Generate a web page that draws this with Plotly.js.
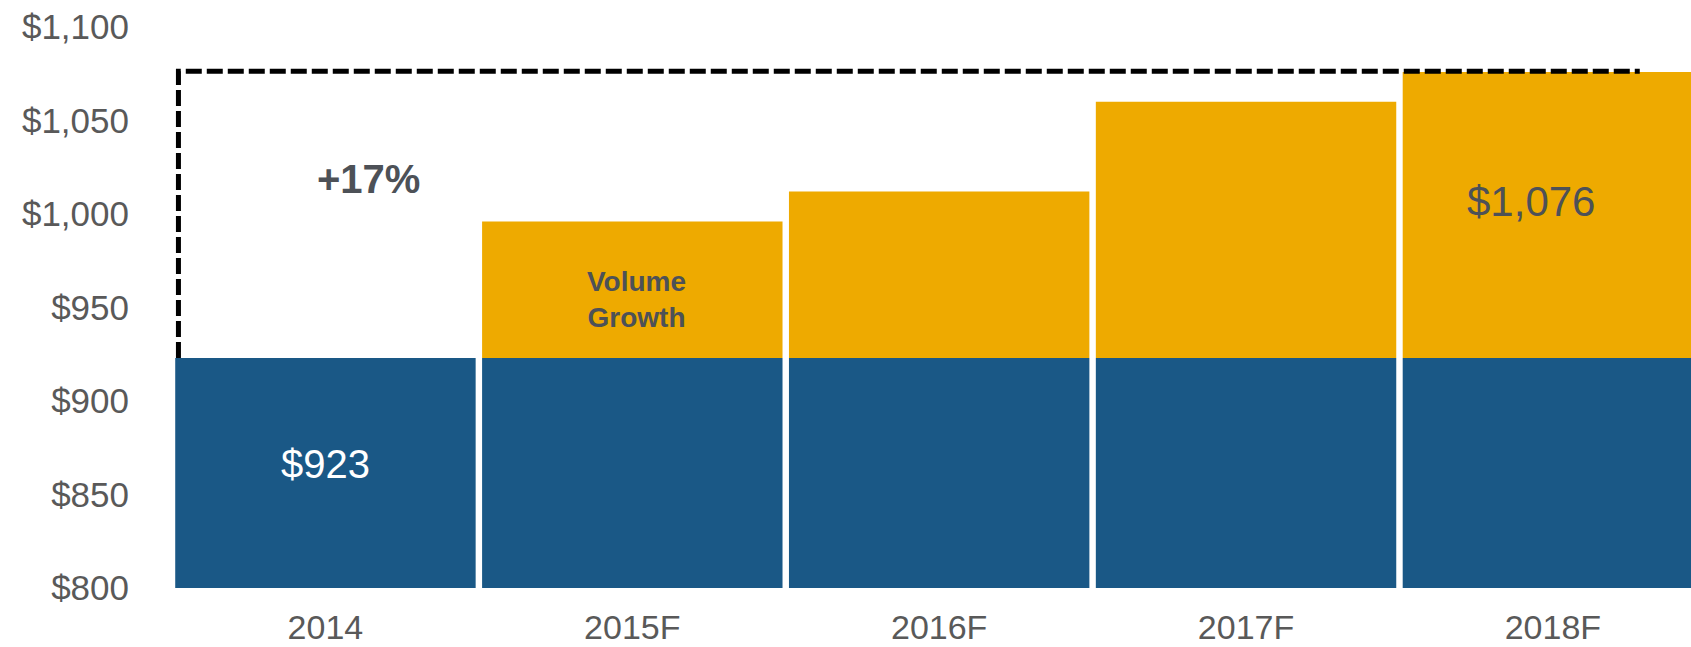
<!DOCTYPE html>
<html>
<head>
<meta charset="utf-8">
<script src="https://cdn.plot.ly/plotly-3.0.1.min.js"></script>
<style>
  html, body { margin: 0; padding: 0; background: #ffffff; }
  #chart { width: 1691px; height: 647px; }
</style>
</head>
<body>
<div id="chart"></div>
<script>
// ---- data ----
const categories = ["2014", "2015F", "2016F", "2017F", "2018F"];
const baseValues = [923, 923, 923, 923, 923];
const totalValues = [923, 996, 1012, 1060, 1076];
const yTickValues = [800, 850, 900, 950, 1000, 1050, 1100];
const yTickLabels = ["$800", "$850", "$900", "$950", "$1,000", "$1,050", "$1,100"];
const growthLabel = "Volume<br>Growth";

// derived
const growthValues = totalValues.map((t, i) => t - baseValues[i]);
const fmt = v => "$" + v.toLocaleString("en-US");
const pct = Math.round((totalValues[totalValues.length - 1] / totalValues[0] - 1) * 100);

const blue = "#1a5886";
const gold = "#eeaa00";
const grayText = "#595959";
const darkText = "#4d5157";

const traces = [
  {
    type: "bar",
    x: categories,
    y: baseValues.map(v => v - 800),
    base: 800,
    marker: { color: blue, line: { width: 0 } },
    hoverinfo: "skip",
    showlegend: false
  },
  {
    type: "bar",
    x: categories,
    y: growthValues,
    base: baseValues,
    marker: { color: gold, line: { width: 0 } },
    hoverinfo: "skip",
    showlegend: false
  }
];

const last = totalValues.length - 1;

const layout = {
  width: 1691,
  height: 647,
  margin: { l: 171.5, r: 0, t: 27, b: 59 },
  paper_bgcolor: "#ffffff",
  plot_bgcolor: "#ffffff",
  barmode: "overlay",
  bargap: 0.021,
  showlegend: false,
  font: { family: "Liberation Sans, Arial, sans-serif", color: grayText },
  xaxis: {
    type: "category",
    range: [-0.5, 4.45],
    showgrid: false,
    zeroline: false,
    showline: false,
    ticks: "",
    ticklabelstandoff: 16,
    tickfont: { size: 34, color: grayText, family: "Liberation Sans, Arial, sans-serif" },
    fixedrange: true
  },
  yaxis: {
    range: [800, 1100],
    tickmode: "array",
    tickvals: yTickValues,
    ticktext: yTickLabels,
    showgrid: false,
    zeroline: false,
    showline: false,
    ticks: "",
    ticklabelstandoff: 42,
    tickfont: { size: 35, color: grayText, family: "Liberation Sans, Arial, sans-serif" },
    fixedrange: true
  },
  shapes: [
    {
      type: "path",
      xref: "x",
      yref: "y",
      path: "M -0.479," + baseValues[0] + " L -0.479,1076.3 L 4.283,1076.3",
      line: { color: "#000000", width: 5, dash: "16px,5px" },
      fillcolor: "rgba(0,0,0,0)"
    }
  ],
  annotations: [
    {
      x: 0, y: 866.5, xref: "x", yref: "y",
      text: fmt(totalValues[0]), showarrow: false,
      font: { size: 40, color: "#ffffff", family: "Liberation Sans, Arial, sans-serif" }
    },
    {
      x: 3.93, y: 1006.6, xref: "x", yref: "y",
      text: fmt(totalValues[last]), showarrow: false,
      font: { size: 42, color: darkText, family: "Liberation Sans, Arial, sans-serif" }
    },
    {
      x: 0.14, y: 1018.7, xref: "x", yref: "y",
      text: "<b>+" + pct + "%</b>", showarrow: false,
      font: { size: 40, color: darkText, family: "Liberation Sans, Arial, sans-serif" }
    },
    {
      x: 1.015, y: 954.5, xref: "x", yref: "y",
      text: "<b>" + growthLabel + "</b>", showarrow: false,
      font: { size: 28, color: darkText, family: "Liberation Sans, Arial, sans-serif" }
    }
  ]
};

Plotly.newPlot("chart", traces, layout, { displayModeBar: false, staticPlot: true });
</script>
</body>
</html>
